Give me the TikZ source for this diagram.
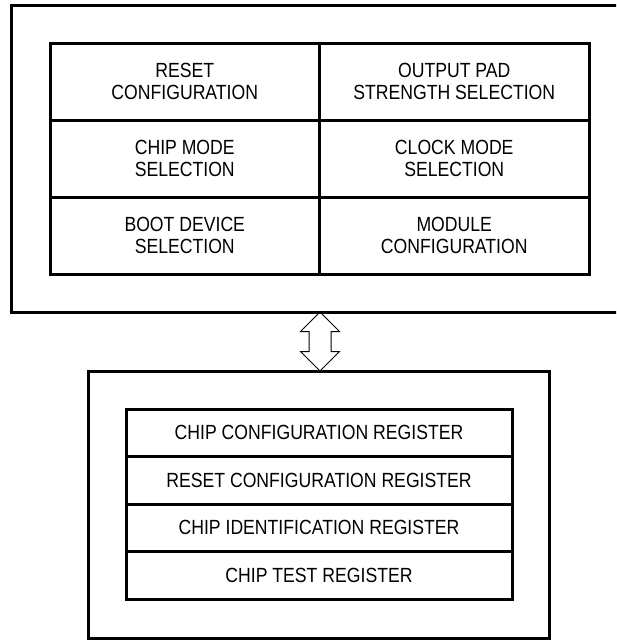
\documentclass[tikz,border=0pt]{standalone}
\usepackage{fontspec}
\setmainfont{Liberation Sans}[FakeStretch=0.86]
\usetikzlibrary{positioning}
\tikzset{
    frame/.style = {rectangle, line width=3pt, draw=black, inner sep=0pt, outer sep=0pt},
    cell/.style = {rectangle, line width=3pt, draw=black, minimum width=269.5pt, minimum height=77pt, inner sep=0pt, outer sep=0pt, align=center, font=\fontsize{20.5}{22}\selectfont},
    reg/.style = {rectangle, line width=3pt, draw=black, minimum width=386pt, minimum height=47.5pt, inner sep=0pt, outer sep=0pt, align=center, font=\fontsize{20.5}{22}\selectfont},
    twoway/.style = {line width=1pt, draw=black}, % both ways
}
\begin{document}
\begin{tikzpicture}[x=1pt,y=-1pt]
\useasboundingbox (0,0) rectangle (616,640);
\clip (0,0) rectangle (616,640);
%
\node[frame, minimum width=618pt, minimum height=307pt] at (320,158.5) (chipcfg) {};
\node[cell] at (184.75,81.5) (reset) {RESET\\CONFIGURATION};
\node[cell] at (454.25,81.5) (pad) {OUTPUT PAD\\STRENGTH SELECTION};
\node[cell] at (184.75,158.5) (chipmode) {CHIP MODE\\SELECTION};
\node[cell] at (454.25,158.5) (clkmode) {CLOCK MODE\\SELECTION};
\node[cell] at (184.75,235.5) (boot) {BOOT DEVICE\\SELECTION};
\node[cell] at (454.25,235.5) (module) {MODULE\\CONFIGURATION};
%
\node[frame, minimum width=461pt, minimum height=267pt] at (318.5,504.5) (regfile) {};
\node[reg] at (319,432.75) (ccr) {CHIP CONFIGURATION REGISTER};
\node[reg] at (319,480.25) (rcr) {RESET CONFIGURATION REGISTER};
\node[reg] at (319,527.75) (cir) {CHIP IDENTIFICATION REGISTER};
\node[reg] at (319,575.25) (ctr) {CHIP TEST REGISTER};
%
\draw[twoway] (chipcfg.south) -- ++(19.5,19.5) -- ++(-8.5,0) -- ++(0,20) -- ++(8.5,0)
    -- ++(-19.5,19.5) -- ++(-19.5,-19.5) -- ++(8.5,0) -- ++(0,-20) -- ++(-8.5,0) -- cycle;

\end{tikzpicture}
\end{document}
